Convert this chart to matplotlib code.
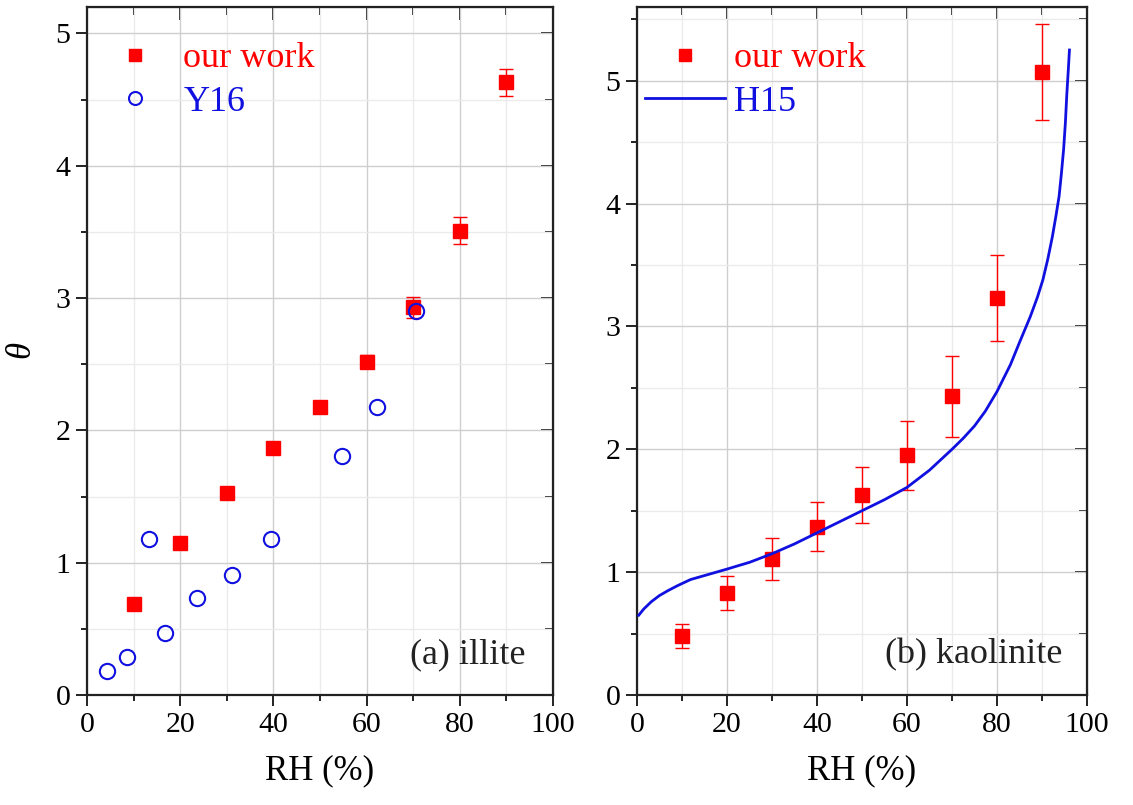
import matplotlib
matplotlib.use("Agg")
import matplotlib.pyplot as plt
from matplotlib.ticker import MultipleLocator

plt.rcParams['font.family'] = ['Liberation Serif', 'DejaVu Serif']
plt.rcParams['mathtext.fontset'] = 'custom'
plt.rcParams['mathtext.it'] = 'Liberation Serif:italic'

# ---- data: (a) illite ----
rh_work = [10, 20, 30, 40, 50, 60, 70, 80, 90]
illite_theta = [0.69, 1.15, 1.53, 1.87, 2.18, 2.52, 2.93, 3.51, 4.63]
illite_err = [0.03, 0.03, 0.03, 0.04, 0.04, 0.05, 0.08, 0.10, 0.10]
y16_rh = [4.3, 8.5, 13.4, 16.8, 23.6, 31.1, 39.5, 54.7, 62.2, 70.6]
y16_theta = [0.18, 0.29, 1.18, 0.47, 0.73, 0.91, 1.18, 1.81, 2.18, 2.90]

# ---- data: (b) kaolinite ----
kaol_theta = [0.48, 0.83, 1.11, 1.37, 1.63, 1.95, 2.43, 3.23, 5.07]
kaol_err = [0.10, 0.14, 0.17, 0.20, 0.23, 0.28, 0.33, 0.35, 0.39]
h15_rh = [0.4, 1.5, 3.2, 5, 6.9, 9, 11.9, 16.2, 20, 22.7, 25, 30, 35, 40,
          45, 50, 55, 60, 65, 70, 72.5, 75, 77.4, 80, 83, 85, 87.4, 89, 90.2,
          91.3, 92.3, 93.1, 93.8, 94.3, 94.8, 95.2, 95.5, 95.8, 96.1]
h15_theta = [0.65, 0.70, 0.76, 0.81, 0.85, 0.89, 0.94, 0.985, 1.025, 1.055,
             1.08, 1.15, 1.23, 1.32, 1.41, 1.50, 1.59, 1.69, 1.83, 2.00,
             2.09, 2.19, 2.31, 2.47, 2.69, 2.87, 3.08, 3.24, 3.38, 3.55,
             3.73, 3.90, 4.06, 4.24, 4.44, 4.66, 4.88, 5.06, 5.25]

RED = '#ff0000'
BLUE = '#1010e0'
DARK = '#222222'

fig = plt.figure(figsize=(11.33, 8.05), dpi=100)
axa = fig.add_axes([0.0768, 0.1366, 0.4113, 0.8547])
axb = fig.add_axes([0.5622, 0.1366, 0.3972, 0.8547])

FS_TICK = 21.5
FS_LAB = 25
FS_LEG = 26


def style(ax, ymax):
    ax.set_xlim(0, 100)
    ax.set_ylim(0, ymax)
    ax.xaxis.set_major_locator(MultipleLocator(20))
    ax.xaxis.set_minor_locator(MultipleLocator(10))
    ax.yaxis.set_major_locator(MultipleLocator(1))
    ax.yaxis.set_minor_locator(MultipleLocator(0.5))
    ax.grid(which='major', color='#cfcfcf', lw=1.0)
    ax.grid(which='minor', color='#ebebeb', lw=1.0)
    ax.set_axisbelow(True)
    for s in ax.spines.values():
        s.set_linewidth(1.6)
        s.set_color(DARK)
    ax.tick_params(which='both', direction='out', top=False, right=False,
                   width=1.4, color=DARK, labelsize=FS_TICK)
    ax.tick_params(which='major', length=8, pad=4)
    ax.tick_params(which='minor', length=4.5)
    ax.set_xlabel('RH (%)', fontsize=FS_LAB, labelpad=12)
    sx = ax.secondary_xaxis('top')
    sx.xaxis.set_major_locator(MultipleLocator(20))
    sx.xaxis.set_minor_locator(MultipleLocator(10))
    sx.tick_params(which='both', direction='in', labeltop=False, width=1.4,
                   color=DARK)
    sx.tick_params(which='major', length=9)
    sx.tick_params(which='minor', length=5.5)
    sy = ax.secondary_yaxis('right')
    sy.yaxis.set_major_locator(MultipleLocator(1))
    sy.yaxis.set_minor_locator(MultipleLocator(0.5))
    sy.tick_params(which='both', direction='in', labelright=False, width=1.4,
                   color=DARK)
    sy.tick_params(which='major', length=9)
    sy.tick_params(which='minor', length=5.5)


style(axa, 5.2)
style(axb, 5.6)

leg_kw = dict(loc='upper left', frameon=False, fontsize=FS_LEG,
              markerscale=0.85, handlelength=2.2, handletextpad=0.25,
              borderaxespad=0.0, borderpad=0.0, labelspacing=0.28)

# (a) illite
axa.errorbar(rh_work, illite_theta, yerr=illite_err, fmt='none',
             ecolor=RED, elinewidth=1.0, capsize=5, capthick=1.0, zorder=3)
ha, = axa.plot(rh_work, illite_theta, 's', color=RED, ms=10.5,
               mec=RED, zorder=4, label='our work')
hb, = axa.plot(y16_rh, y16_theta, 'o', mfc='none', mec=BLUE, mew=1.5,
               ms=11, zorder=5, label='Y16')
axa.set_ylabel(r'$\theta$', fontsize=FS_LAB, labelpad=12)
leg = axa.legend(handles=[ha, hb], bbox_to_anchor=(0.017, 0.949), **leg_kw)
for t, c in zip(leg.get_texts(), [RED, BLUE]):
    t.set_color(c)
axa.text(0.94, 0.035, '(a) illite', transform=axa.transAxes, ha='right',
         va='bottom', fontsize=FS_LEG, color=DARK)

# (b) kaolinite
axb.errorbar(rh_work, kaol_theta, yerr=kaol_err, fmt='none',
             ecolor=RED, elinewidth=1.0, capsize=5, capthick=1.0, zorder=3)
hc, = axb.plot(rh_work, kaol_theta, 's', color=RED, ms=10.5, mec=RED,
               zorder=4, label='our work')
hd, = axb.plot(h15_rh, h15_theta, '-', color=BLUE, lw=2.0, zorder=5,
               label='H15')
leg2 = axb.legend(handles=[hc, hd], bbox_to_anchor=(0.018, 0.949), **leg_kw)
for t, c in zip(leg2.get_texts(), [RED, BLUE]):
    t.set_color(c)
axb.text(0.945, 0.035, '(b) kaolinite', transform=axb.transAxes, ha='right',
         va='bottom', fontsize=FS_LEG, color=DARK)

fig.savefig('out.png', dpi=100)
